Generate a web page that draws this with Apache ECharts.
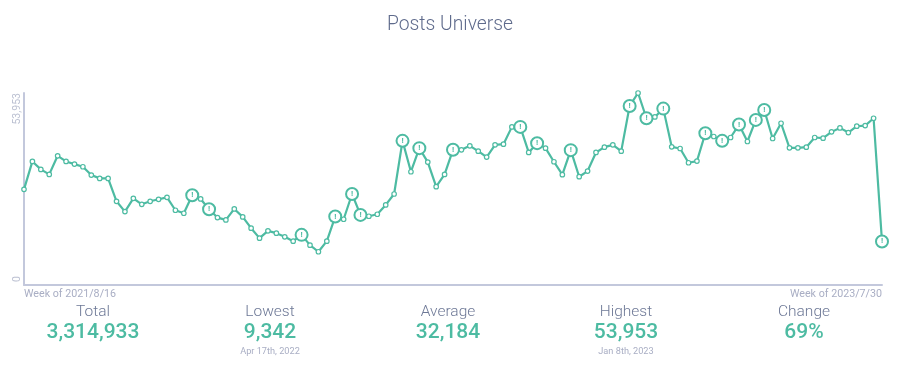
<!DOCTYPE html>
<html>
<head>
<meta charset="utf-8">
<title>Posts Universe</title>
<script src="https://cdn.jsdelivr.net/npm/echarts@6/dist/echarts.min.js"></script>
<style>
  html, body { margin: 0; padding: 0; background: #fff; }
  #chart { width: 900px; height: 366px; }
</style>
</head>
<body>
<div id="chart"></div>
<script>
// weekly posts
var posts = [
  26882, 34722, 32483, 31082, 36309, 34722, 33976, 33229, 30896, 29962,
  29962, 23522, 20628, 24362, 22682, 23522, 24082, 24642, 21002, 20161,
  25202, 24175, 21282, 18948, 18295, 21375, 19135, 15961, 13161, 15214,
  14561, 13534, 12321, 14094, 11201, 9342, 12321, 19228, 18481, 25575,
  19695, 19321, 19881, 22495, 25575, 40510, 31829, 38456, 34536, 27629,
  31082, 37989, 37989, 39109, 37616, 35936, 39389, 39576, 44430, 44430,
  37243, 39856, 38456, 34629, 30989, 37896, 30429, 32016, 37243, 38736,
  39389, 37616, 50310, 53953, 46857, 47230, 49564, 38829, 38363, 34349,
  34816, 42656, 41723, 40510, 41443, 45083, 40323, 46390, 49190, 41163,
  45457, 38549, 38549, 38736, 41443, 41256, 43030, 44150, 42843, 44617,
  44803, 46857, 12228
];
// weeks that carry a "!" marker
var flagged = [20, 22, 33, 37, 39, 40, 45, 47, 51, 59, 61, 65, 72, 74, 76, 81, 83, 85, 87, 88, 102];
var xTickLabels = ['Week of 2021/8/16', 'Week of 2023/7/30'];
var yTicks = [0, 53953];

var statNames = ['Total', 'Lowest', 'Average', 'Highest', 'Change'];
var statValues = ['3,314,933', '9,342', '32,184', '53,953', '69%'];
var statNotes = ['', 'Apr 17th, 2022', '', 'Jan 8th, 2023', ''];
var statX = [93, 270, 448, 626, 804];

var GREEN = '#4dbba2';
var FONT = 'Roboto, sans-serif';

var stats = [];
statNames.forEach(function (name, i) {
  stats.push({ type: 'text', x: statX[i], y: 312, style: { text: name, align: 'center', verticalAlign: 'middle', font: '300 15.5px ' + FONT, fill: '#6d7896' } });
  stats.push({ type: 'text', x: statX[i], y: 333, style: { text: statValues[i], align: 'center', verticalAlign: 'middle', font: '500 21px ' + FONT, fill: GREEN } });
  if (statNotes[i]) {
    stats.push({ type: 'text', x: statX[i], y: 352, style: { text: statNotes[i], align: 'center', verticalAlign: 'middle', font: '400 9.2px ' + FONT, fill: '#a9aec4' } });
  }
});

var points = posts.map(function (v, i) {
  if (flagged.indexOf(i) < 0) return v;
  return {
    value: v,
    symbolSize: 12,
    itemStyle: { borderWidth: 2 },
    label: { show: true, formatter: '!', position: 'inside', color: GREEN, fontSize: 8, fontWeight: 700, fontFamily: FONT }
  };
});

var chart = echarts.init(document.getElementById('chart'), null, { renderer: 'canvas' });
chart.setOption({
  animation: false,
  title: {
    text: 'Posts Universe',
    left: 'center',
    top: 11,
    textStyle: { fontFamily: FONT, fontWeight: 300, fontSize: 19.3, color: '#5f6b8c' }
  },
  grid: { left: 24, right: 18, top: 93, bottom: 81 },
  xAxis: {
    type: 'category',
    boundaryGap: false,
    data: posts.map(function (v, i) { return i; }),
    axisLine: { lineStyle: { color: '#c3c8dc', width: 2 } },
    axisTick: { show: false },
    axisLabel: {
      margin: 4,
      fontFamily: FONT,
      fontSize: 10.7,
      color: '#a9aec4',
      alignMinLabel: 'left',
      alignMaxLabel: 'right',
      interval: function (i) { return i === 0 || i === posts.length - 1; },
      formatter: function (v, i) { return i === 0 ? xTickLabels[0] : xTickLabels[1]; }
    }
  },
  yAxis: {
    type: 'value',
    min: yTicks[0],
    max: yTicks[1],
    interval: yTicks[1],
    splitLine: { show: false },
    axisTick: { show: false },
    axisLine: { show: true, lineStyle: { color: '#c3c8dc', width: 2 } },
    axisLabel: {
      rotate: 90,
      margin: 1,
      fontFamily: FONT,
      fontSize: 10.5,
      color: '#bcc1d2',
      alignMinLabel: 'left',
      alignMaxLabel: 'right',
      formatter: function (v) { return v === 0 ? '{zero|0}' : v.toLocaleString('en-US'); },
      rich: { zero: { fontFamily: FONT, fontSize: 10.5, color: '#bcc1d2', padding: [0, 0, 0, 3] } }
    }
  },
  series: [{
    type: 'line',
    data: points,
    symbol: 'circle',
    symbolSize: 4.5,
    showAllSymbols: true,
    showSymbol: true,
    lineStyle: { color: GREEN, width: 2.2 },
    itemStyle: { color: '#fff', borderColor: GREEN, borderWidth: 1.2 }
  }],
  graphic: stats
});
</script>
</body>
</html>
